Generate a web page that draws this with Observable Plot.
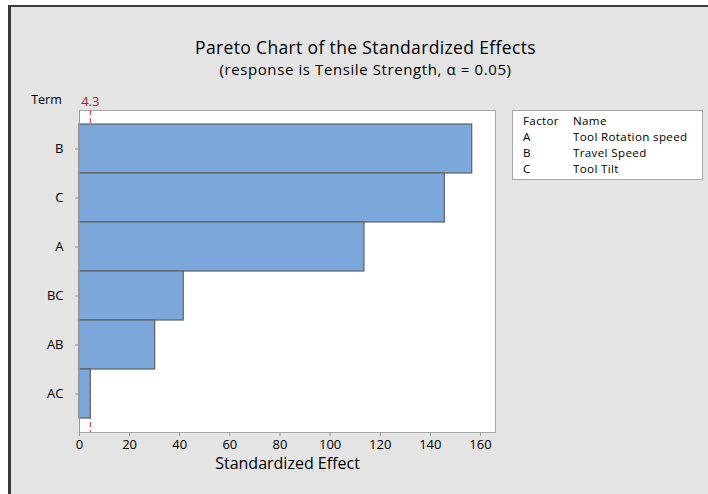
<!DOCTYPE html>
<html>
<head>
<meta charset="utf-8">
<script src="https://cdn.jsdelivr.net/npm/d3@7"></script>
<script src="https://cdn.jsdelivr.net/npm/@observablehq/plot@0.6"></script>
<style>
  html, body { margin: 0; padding: 0; background: #fff; }
  #chart { position: relative; width: 708px; height: 494px; overflow: hidden; font-family: "Open Sans", sans-serif; }
  #panel { position: absolute; left: 8px; top: 5px; width: 710px; height: 500px; background: #e4e4e4;
           border-left: 3px solid #3a3a3a; border-top: 2px solid #3a3a3a; box-sizing: border-box; }
  #plot { position: absolute; left: 0; top: 0; }
  #legend { position: absolute; left: 512px; top: 110px; width: 191px; height: 70px; background: #fff;
            border: 1px solid #a8a8a8; box-sizing: border-box; font-size: 11.6px; letter-spacing: 0.35px;
            color: #000; padding-top: 2px; }
  #legend table { border-collapse: collapse; }
  #legend td { padding: 0; line-height: 16px; height: 16px; white-space: nowrap; }
  #legend td.f { padding-left: 10px; width: 50px; }
</style>
</head>
<body>
<div id="chart">
  <div id="panel"></div>
  <div id="plot"></div>
  <div id="legend"></div>
</div>
<script>
// Effect terms, ordered largest first, and their standardized effects
const terms = ["B", "C", "A", "BC", "AB", "AC"];
const effects = [156.7, 145.8, 113.7, 41.6, 30.2, 4.5];

// Critical value of the effect at alpha = 0.05
const critical = 4.3;

// X axis ticks
const xTicks = [0, 20, 40, 60, 80, 100, 120, 140, 160];

// Factor key
const factors = ["A", "B", "C"];
const factorNames = ["Tool Rotation speed", "Travel Speed", "Tool Tilt"];

const title = "Pareto Chart of the Standardized Effects";
const subtitle = "(response is Tensile Strength, \u03b1 = 0.05)";

const rows = terms.map((t, i) => ({term: t, effect: effects[i]}));

const font = "Open Sans, sans-serif";

const chart = Plot.plot({
  width: 708,
  height: 494,
  marginLeft: 79,
  marginRight: 213,
  marginTop: 110,
  marginBottom: 62,
  style: {background: "transparent", fontFamily: font, fontSize: "13px", color: "#000"},
  x: {domain: [0, 166], ticks: xTicks},
  y: {type: "band", domain: terms, paddingInner: 0, paddingOuter: 0.26},
  marks: [
    Plot.frame({fill: "white", stroke: "#a8a8a8"}),
    // reference line sits behind the bars
    Plot.ruleX([critical], {stroke: "#e3262b", strokeWidth: 1, strokeDasharray: "5,3"}),
    Plot.barX(rows, {x: "effect", y: "term", fill: "#7ba7da", stroke: "#606060", strokeWidth: 1.2}),
    Plot.text([critical], {x: d => d, frameAnchor: "top", dy: -14, text: d => String(d), fill: "#a8262a", fontSize: 13}),
    Plot.axisY({tickSize: 4, tickPadding: 12, stroke: "#999", fill: "#000", fontSize: 13, label: null}),
    Plot.axisX({ticks: xTicks, tickSize: 4, tickPadding: 3, stroke: "#999", fill: "#000", fontSize: 13, label: null}),
    Plot.ruleX([0], {stroke: "#999"}),
    // Titles and axis labels
    Plot.text([title], {frameAnchor: "top", dx: 78, dy: -69, fontSize: 17.5, fill: "#000"}),
    Plot.text([subtitle], {frameAnchor: "top", dx: 78, dy: -46, fontSize: 15, fill: "#000"}),
    Plot.text(["Term"], {frameAnchor: "top-left", dx: -33, dy: -15, textAnchor: "middle", fontSize: 12.5, fill: "#000"}),
    Plot.text(["Standardized Effect"], {frameAnchor: "bottom", dy: 36, fontSize: 16, fill: "#000"})
  ]
});
document.getElementById("plot").appendChild(chart);

// slightly wider tracking on the two title lines
d3.select(chart).selectAll("text")
  .filter(function() { return this.textContent === title; })
  .style("letter-spacing", "0.35px");
d3.select(chart).selectAll("text")
  .filter(function() { return this.textContent === subtitle; })
  .style("letter-spacing", "0.6px");

// Factor key table
const table = d3.select("#legend").append("table");
const head = table.append("tr");
head.append("td").attr("class", "f").text("Factor");
head.append("td").text("Name");
factors.forEach((f, i) => {
  const tr = table.append("tr");
  tr.append("td").attr("class", "f").text(f);
  tr.append("td").text(factorNames[i]);
});
</script>
</body>
</html>
